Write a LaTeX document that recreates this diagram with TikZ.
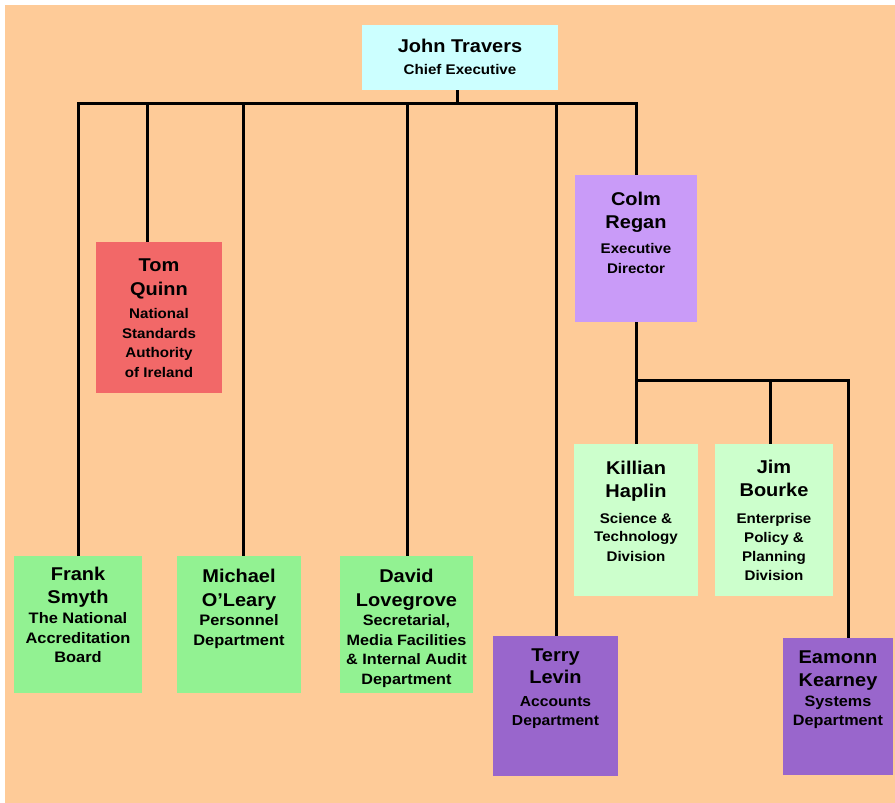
\documentclass[tikz,border=0pt]{standalone}
\usepackage{fontspec}
\setmainfont{Liberation Sans}[FakeStretch=1.08]
\definecolor{bgpeach}{HTML}{FECB98}
\definecolor{cyanbox}{HTML}{CCFFFF}
\definecolor{redbox}{HTML}{F26868}
\definecolor{lavbox}{HTML}{C99BF8}
\definecolor{mintbox}{HTML}{CCFFCC}
\definecolor{greenbox}{HTML}{92F292}
\definecolor{purplebox}{HTML}{9966CC}
\def\dsz{14}
\newcommand\NM[1]{\smash{\fontsize{18.5}{18.5}\selectfont\bfseries #1}}
\newcommand\DS[1]{\smash{\fontsize{\dsz}{\dsz}\selectfont\bfseries #1}}
\newcommand\TL[2]{\par\vspace*{#1pt}\leavevmode#2}
\newcommand\BOX[3]{\begin{minipage}[t][#2pt][t]{#1pt}\centering\baselineskip=0pt\lineskip=0pt\lineskiplimit=-1000pt\parskip=0pt #3\par\end{minipage}}
\tikzset{
  orgbox/.style={rectangle, inner sep=0pt, outer sep=0pt, anchor=north west},
  conn/.style={draw=black, line width=3pt}
}
\begin{document}
\begin{tikzpicture}[x=1pt,y=-1pt]
\useasboundingbox (0,0) rectangle (895,803);
\fill[white] (0,0) rectangle (895,803);
\fill[bgpeach] (5,5) rectangle (895,803);
% boxes
\node[orgbox, fill=cyanbox] (jt) at (362,25) {\BOX{196}{65}{\TL{27.5}{\NM{John Travers}}\TL{22.5}{\DS{Chief Executive}}}};
\node[orgbox, fill=redbox] (tq) at (96,242) {\BOX{126}{151}{\TL{29.5}{\NM{Tom}}\TL{24}{\NM{Quinn}}\TL{22.5}{\DS{National}}\TL{20}{\DS{Standards}}\TL{19.5}{\DS{Authority}}\TL{20}{\DS{of Ireland}}}};
\node[orgbox, fill=lavbox] (cr) at (575,175) {\BOX{122}{147}{\TL{30.5}{\NM{Colm}}\TL{23}{\NM{Regan}}\TL{24.5}{\DS{Executive}}\TL{20}{\DS{Director}}}};
\node[orgbox, fill=mintbox] (kh) at (574,444) {\BOX{124}{152}{\TL{30.5}{\NM{Killian}}\TL{23}{\NM{Haplin}}\TL{25.5}{\DS{Science \&}}\TL{18.5}{\DS{Technology}}\TL{19.5}{\DS{Division}}}};
\node[orgbox, fill=mintbox] (jb) at (715,444) {\BOX{118}{152}{\TL{29.5}{\NM{Jim}}\TL{23}{\NM{Bourke}}\TL{26.5}{\DS{Enterprise}}\TL{19}{\DS{Policy \&}}\TL{19}{\DS{Planning}}\TL{19}{\DS{Division}}}};
\node[orgbox, fill=greenbox] (fs) at (14,556) {\BOX{128}{137}{\def\dsz{15.2}\TL{24.5}{\NM{Frank}}\TL{23}{\NM{Smyth}}\TL{19.5}{\DS{The National}}\TL{20}{\DS{Accreditation}}\TL{19}{\DS{Board}}}};
\node[orgbox, fill=greenbox] (ml) at (177,556) {\BOX{124}{137}{\def\dsz{15.2}\TL{26.5}{\NM{Michael}}\TL{24}{\NM{O'Leary}}\TL{18.5}{\DS{Personnel}}\TL{20}{\DS{Department}}}};
\node[orgbox, fill=greenbox] (dl) at (340,556) {\BOX{133}{137}{\def\dsz{15}\TL{26.5}{\NM{David}}\TL{24}{\NM{Lovegrove}}\TL{18.5}{\DS{Secretarial,}}\TL{20}{\DS{Media Facilities}}\TL{19.5}{\DS{\& Internal Audit}}\TL{20}{\DS{Department}}}};
\node[orgbox, fill=purplebox] (tl) at (493,636) {\BOX{125}{140}{\def\dsz{14.5}\TL{25.5}{\NM{Terry}}\TL{22}{\NM{Levin}}\TL{22.5}{\DS{Accounts}}\TL{19}{\DS{Department}}}};
\node[orgbox, fill=purplebox] (ek) at (783,638) {\BOX{110}{137}{\def\dsz{15}\TL{25.5}{\NM{Eamonn}}\TL{23}{\NM{Kearney}}\TL{19.5}{\DS{Systems}}\TL{19}{\DS{Department}}}};
% bus coordinates
\coordinate (bus) at (457,103);
\coordinate (bTq) at (147,103);
\coordinate (bMl) at (243,103);
\coordinate (bDl) at (407,103);
\coordinate (bTl) at (556,103);
\coordinate (bus2) at (700,380);
\coordinate (bJb) at (770,380);
\coordinate (bEk) at (848,380);
% connectors
\begin{scope}[on background layer/.style={}]
\end{scope}
\draw[conn] (jt.south -| bus) -- (bus);
\draw[conn] (fs.north) |- (bus) -| (cr.north);
\draw[conn] (bTq) -- (bTq |- tq.north);
\draw[conn] (bMl) -- (bMl |- ml.north);
\draw[conn] (bDl) -- (bDl |- dl.north);
\draw[conn] (bTl) -- (bTl |- tl.north);
\draw[conn] (cr.south) |- (bEk) -- (bEk |- ek.north);
\draw[conn] (kh.north) -- (kh.north |- bus2);
\draw[conn] (bJb) -- (bJb |- jb.north);
\end{tikzpicture}
\end{document}
